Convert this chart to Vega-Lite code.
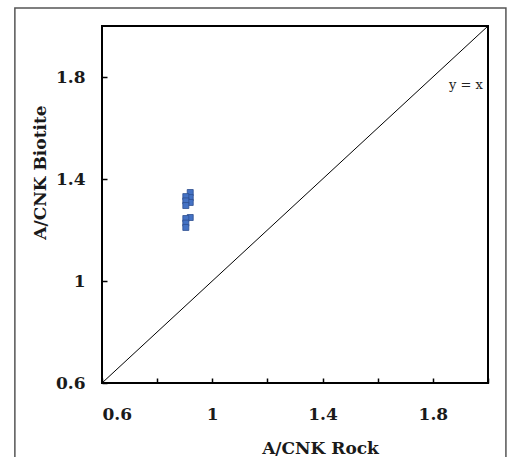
{
  "$schema": "https://vega.github.io/schema/vega-lite/v6.json",
  "autosize": "none",
  "width": 386,
  "height": 357,
  "padding": {"left": 102, "top": 26, "right": 21, "bottom": 74},
  "background": "white",
  "config": {
    "view": {"stroke": "black", "strokeWidth": 2},
    "axis": {
      "labelFont": "DejaVu Serif",
      "labelFontWeight": "bold",
      "labelFontSize": 17,
      "labelColor": "#1a1a1a",
      "titleFont": "DejaVu Serif",
      "titleFontWeight": "bold",
      "titleFontSize": 17,
      "titleColor": "#1a1a1a",
      "domain": false,
      "grid": false,
      "tickColor": "black",
      "tickWidth": 1.5,
      "tickSize": -5
    }
  },
  "datasets": {
    "frame": [{"x1": 0.284, "x2": 2.065, "y1": 0.298, "y2": 2.071}],
    "diag": [{"x": 0.6, "y": 0.6}, {"x": 2.0, "y": 2.0}],
    "pts": [
      {"rock": 0.92, "biotite": 1.347},
      {"rock": 0.92, "biotite": 1.327},
      {"rock": 0.92, "biotite": 1.308},
      {"rock": 0.92, "biotite": 1.249},
      {"rock": 0.904, "biotite": 1.331},
      {"rock": 0.904, "biotite": 1.314},
      {"rock": 0.904, "biotite": 1.296},
      {"rock": 0.904, "biotite": 1.245},
      {"rock": 0.904, "biotite": 1.227},
      {"rock": 0.904, "biotite": 1.21}
    ],
    "note": [{"x": 1.92, "y": 1.77, "label": "y = x"}]
  },
  "layer": [
    {
      "data": {"name": "frame"},
      "mark": {"type": "rect", "fill": null, "stroke": "#555555", "strokeWidth": 1.5, "clip": false},
      "encoding": {
        "x": {"field": "x1", "type": "quantitative", "scale": {"domain": [0.6, 2.0], "nice": false, "zero": false},
          "axis": {"values": [0.6, 0.8, 1, 1.2, 1.4, 1.6, 1.8, 2], "format": "~g",
            "labelExpr": "round(datum.value*10) % 4 == 2 ? datum.label : ''",
            "labelPadding": 28, "title": "A/CNK Rock", "titleX": 218, "titleY": 70, "titleAnchor": null, "titleBaseline": "alphabetic", "titleAlign": "center"}},
        "x2": {"field": "x2"},
        "y": {"field": "y1", "type": "quantitative", "scale": {"domain": [0.6, 2.0], "nice": false, "zero": false},
          "axis": {"values": [0.6, 1, 1.4, 1.8], "format": "~g", "labelPadding": 22,
            "title": "A/CNK Biotite", "titleX": -62, "titleY": 146, "titleBaseline": "middle", "titleAlign": "center", "titleAngle": -90}},
        "y2": {"field": "y2"}
      }
    },
    {
      "data": {"name": "diag"},
      "mark": {"type": "line", "color": "black", "strokeWidth": 1},
      "encoding": {
        "x": {"field": "x", "type": "quantitative"},
        "y": {"field": "y", "type": "quantitative"}
      }
    },
    {
      "data": {"name": "pts"},
      "mark": {"type": "point", "shape": "square", "filled": true, "size": 36, "fill": "#4472C4", "stroke": "#2E4F8F", "strokeWidth": 0.8, "opacity": 1},
      "encoding": {
        "x": {"field": "rock", "type": "quantitative"},
        "y": {"field": "biotite", "type": "quantitative"}
      }
    },
    {
      "data": {"name": "note"},
      "mark": {"type": "text", "font": "DejaVu Serif", "fontSize": 13, "color": "#222222", "align": "center", "baseline": "middle"},
      "encoding": {
        "x": {"field": "x", "type": "quantitative"},
        "y": {"field": "y", "type": "quantitative"},
        "text": {"field": "label"}
      }
    }
  ]
}
